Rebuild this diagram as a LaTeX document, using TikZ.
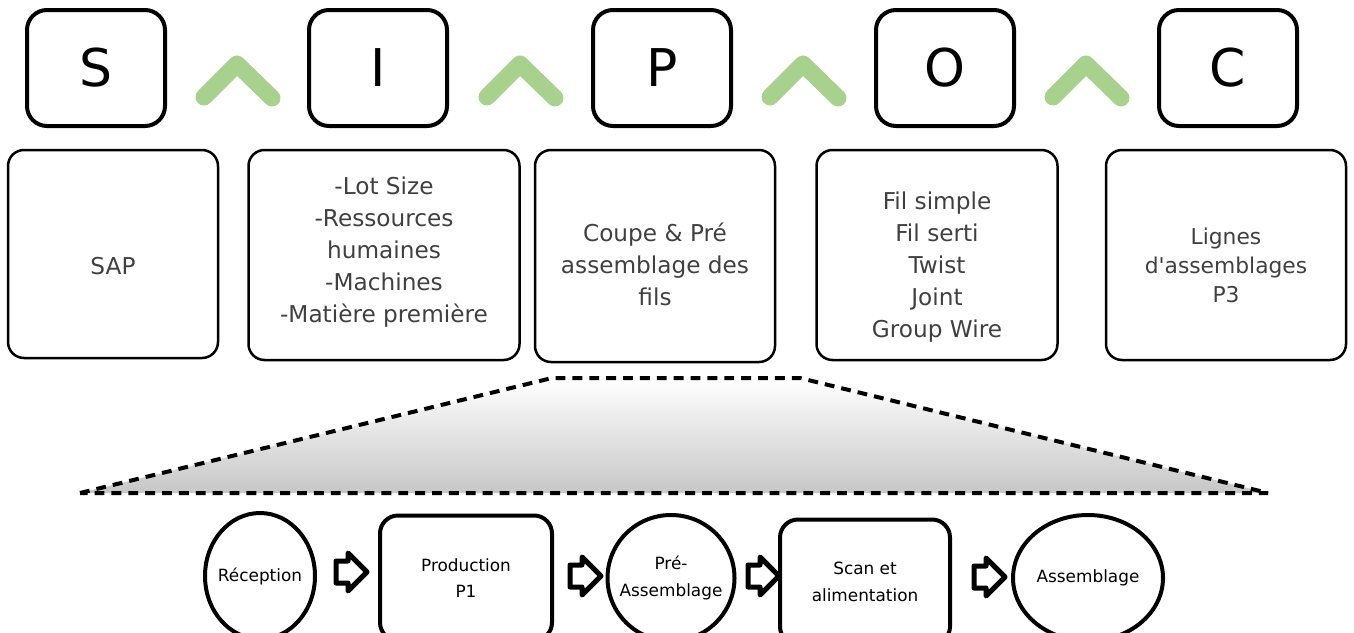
\documentclass[tikz,border=0pt]{standalone}
\usepackage{fontspec}
\setmainfont{DejaVu Sans}
\usetikzlibrary{shapes.arrows, shapes.geometric, positioning}
\definecolor{chevgreen}{HTML}{A9D18E}
\definecolor{txtgrey}{HTML}{404040}
\newcommand{\px}{0.025cm}
\tikzset{
  letterbox/.style={draw, line width=4*\px, rounded corners=20*\px, minimum width=138*\px, minimum height=116*\px, font=\fontsize{37}{44}\selectfont},
  infobox/.style={draw, line width=2.5*\px, rounded corners=16*\px},
  infotext/.style={text=txtgrey, align=center, font=\fontsize{16.5}{22.8}\selectfont},
  chevron/.style={chevgreen, line width=17*\px, line cap=round, line join=round},
  zoomline/.style={line width=4*\px, dash pattern=on 7pt off 5pt, line join=bevel},
  stepbox/.style={draw, line width=4*\px, rounded corners=18*\px, align=center, font=\fontsize{12}{19}\selectfont},
  stepell/.style={ellipse, draw, line width=4*\px, inner sep=0pt},
  steptext/.style={align=center, font=\fontsize{12}{19}\selectfont},
  flowarrow/.style={single arrow, draw, line width=5*\px, line join=round, inner xsep=0pt, inner ysep=8.5*\px, minimum height=31*\px, single arrow head extend=8*\px}
}

\begin{document}
\begin{tikzpicture}[x=\px, y=-\px]
\useasboundingbox (0,0) rectangle (1354,632);

% SIPOC letters
\node[letterbox] (s) at (96,68) {S};
\node[letterbox] (i) at (378,68) {I};
\node[letterbox] (p) at (662,68) {P};
\node[letterbox] (o) at (945,68) {O};
\node[letterbox] (c) at (1228,68) {C};
\foreach \cx in {237,520,803,1086}
  \draw[chevron] (\cx-33,97) -- (\cx,64) -- (\cx+35,98);

% details
\node[infobox, minimum width=210*\px, minimum height=208*\px] (sap) at (113,254) {};
\node[infobox, minimum width=271*\px, minimum height=210*\px] (inputs) at (384,255) {};
\node[infobox, minimum width=240*\px, minimum height=212*\px] (process) at (655,256) {};
\node[infobox, minimum width=241*\px, minimum height=210*\px] (outputs) at (937,255) {};
\node[infobox, minimum width=240*\px, minimum height=210*\px] (clients) at (1226,255) {};

\node[infotext] (saptxt) at ([yshift=-12*\px]sap.center) {SAP};
\node[infotext] (inputstxt) at ([yshift=3*\px]inputs.center) {-Lot Size\\-Ressources\\humaines\\-Machines\\-Matière première};
\node[infotext] (processtxt) at ([yshift=-8*\px]process.center) {Coupe \& Pré\\assemblage des\\fils};
\node[infotext] (outputstxt) at ([yshift=-12*\px]outputs.center) {Fil simple\\Fil serti\\Twist\\Joint\\Group Wire};
\node[infotext, font=\fontsize{15.5}{20.6}\selectfont] (clientstxt) at ([yshift=-10*\px]clients.center) {Lignes\\d\textquotesingle assemblages\\P3};

% zoom on the process
\coordinate (tl) at (552,378);
\coordinate (tr) at (800,378);
\coordinate (bl) at (80,493);
\coordinate (br) at (1268,493);
\shade[top color=white, bottom color=black!22] (bl) -- (tl) -- (tr) -- (br) -- cycle;
\draw[zoomline] (bl) -- (tl) -- (tr) -- (br) -- cycle;

% process steps
\node[stepell, minimum width=110*\px, minimum height=126*\px] (rec) at (260,576) {};
\node[stepbox, minimum width=172*\px, minimum height=125*\px] (prod) at (466,578) {Production\\P1};
\node[stepell, minimum width=127*\px, minimum height=126*\px] (pre) at (671,578) {};
\node[stepbox, minimum width=170*\px, minimum height=125*\px] (scan) at (865,582) {Scan et\\alimentation};
\node[stepell, minimum width=150*\px, minimum height=126*\px] (asm) at (1088,578) {};

\node[steptext] (rectxt) at (rec.center) {Réception};
\node[steptext] (pretxt) at (pre.center) {Pré-\\Assemblage};
\node[steptext] (asmtxt) at (asm.center) {Assemblage};

\node[flowarrow] (a1) at (346,572) {};
\node[flowarrow] (a2) at (580,576) {};
\node[flowarrow] (a3) at (758,576) {};
\node[flowarrow] (a4) at (984,577) {};

\end{tikzpicture}
\end{document}
